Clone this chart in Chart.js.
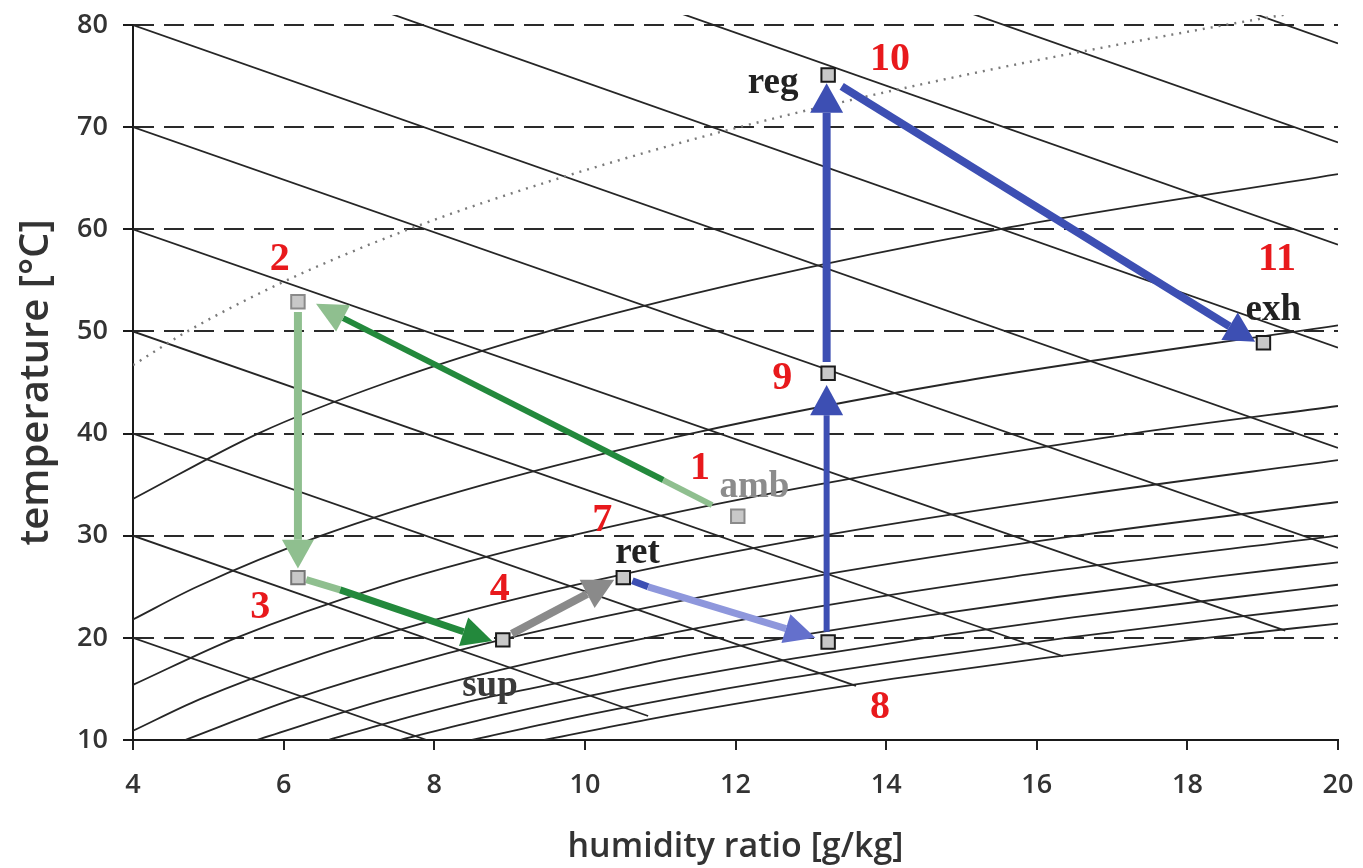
<!DOCTYPE html>
<html>
<head>
<meta charset="utf-8">
<script src="https://cdn.jsdelivr.net/npm/chart.js@4.4.1/dist/chart.umd.min.js"></script>
<style>
  html, body { margin: 0; padding: 0; background: #fff; }
  #wrap { width: 1363px; height: 868px; }
</style>
</head>
<body>
<div id="wrap"><canvas id="psy" width="1363" height="868"></canvas></div>
<script>
// axis ranges (humidity ratio g/kg, temperature degC)
var xTicks = [4, 6, 8, 10, 12, 14, 16, 18, 20];
var yTicks = [10, 20, 30, 40, 50, 60, 70, 80];

// relative humidity curves
var rhLevels = [5, 10, 20, 30, 40, 50, 60, 70, 80, 90, 100];
var rhX = [
    [4, 4.72, 6.04, 7.66, 9.66, 12.05, 14.98, 18.5, 20.1],
    [4, 5.66, 7.37, 9.51, 12.2, 15.5, 20],
    [4, 4.85, 6.5, 8.66, 11.41, 14.91, 20],
    [4, 5.37, 7.29, 9.82, 13.09, 17.27, 20],
    [4, 4.89, 6.33, 8.13, 10.37, 13.15, 16.6, 20],
    [4.69, 6.13, 7.93, 10.2, 13.03, 16.53, 20],
    [5.64, 7.37, 9.54, 12.27, 15.69, 20],
    [6.59, 7.54, 8.6, 9.92, 11.16, 12.67, 14.38, 16.27, 18.39, 20],
    [7.54, 8.63, 9.85, 11.22, 12.78, 14.53, 16.48, 18.66, 20],
    [8.5, 9.73, 11.11, 12.66, 14.43, 16.39, 18.6, 20],
    [9.46, 10.83, 12.37, 14.1, 16.06, 18.26, 20]
];
var rhY = [
    [46.7, 50, 55, 60, 65, 70, 75, 80, 82],
    [33.6, 40, 45, 50, 55, 60, 65.4],
    [21.8, 25, 30, 35, 40, 45, 50.6],
    [15.4, 20, 25, 30, 35, 40, 42.7],
    [10.9, 14, 18, 22, 26, 30, 34, 37.4],
    [10, 14, 18, 22, 26, 30, 33.3],
    [10, 14, 18, 22, 26, 30],
    [10, 12, 14, 16, 18, 20, 22, 24, 26, 27.4],
    [10, 12, 14, 16, 18, 20, 22, 24, 25.2],
    [10, 12, 14, 16, 18, 20, 22, 23.2],
    [10, 12, 14, 16, 18, 20, 21.4]
];

// enthalpy lines: start and end points
var enthX0 = [4, 4, 4, 4, 4, 4, 4, 4, 4, 4, 4];
var enthY0 = [20, 30, 40, 50, 60, 70, 80, 90, 100, 110, 120];
var enthX1 = [7.9, 10.84, 13.6, 16.35, 19.3, 20, 20, 20, 20, 20, 20];
var enthY1 = [10, 12.35, 15.3, 18.2, 20.7, 28.8, 38.6, 48.4, 58.5, 68.5, 78.2];

// process states (square markers)
var stateNames = ['amb', '2', '3', 'sup', 'ret', '8', '9', 'reg', 'exh'];
var stateX = [12.03, 6.19, 6.19, 8.91, 10.51, 13.23, 13.23, 13.23, 19.01];
var stateY = [31.9, 52.9, 25.9, 19.8, 25.9, 19.6, 45.9, 75.1, 48.9];

// process arrows: shaft points (last one = base of head) and head tip
var arrowPathX = [
    [11.69, 11.04, 6.79],
    [6.19, 6.19],
    [6.30, 6.75, 8.39],
    [9.03, 10.03],
    [10.63, 10.84, 12.67],
    [13.21, 13.21],
    [13.21, 13.21],
    [13.41, 18.56]
];
var arrowPathY = [
    [33.0, 35.45, 51.3],
    [51.9, 29.6],
    [25.7, 24.7, 20.6],
    [20.4, 24.3],
    [25.6, 25.0, 20.9],
    [20.6, 41.8],
    [47.0, 71.4],
    [74.0, 50.5]
];
var arrowTipX = [6.43, 6.19, 8.77, 10.39, 13.06, 13.21, 13.21, 18.90];
var arrowTipY = [52.7, 26.8, 19.7, 25.7, 20.0, 44.75, 74.3, 49.0];

// text labels
var labelText = ['1', 'amb', '2', '3', '4', 'sup', '7', 'ret', '8', '9', 'reg', '10', '11', 'exh'];
var labelX = [11.53, 12.25, 5.95, 5.69, 8.87, 8.74, 10.23, 10.7, 13.92, 12.62, 12.5, 14.05, 19.19, 19.14];
var labelY = [36.6, 34.7, 57.0, 23.0, 24.7, 15.2, 31.5, 28.3, 13.2, 45.4, 74.3, 76.6, 57.0, 52.1];

// ---- styles ----
var LINE = '#262626';
var DKGREEN = '#23893c';
var LTGREEN = '#8fbf8f';
var GREY = '#8a8a8a';
var BLUE = '#3d4fb3';
var LTBLUE = '#8e97dc';
var RED = '#e8191c';

var segColors = [[LTGREEN, DKGREEN], [LTGREEN], [LTGREEN, DKGREEN], [GREY], [BLUE, LTBLUE], [BLUE], [BLUE], [BLUE]];
var headColors = [LTGREEN, LTGREEN, DKGREEN, GREY, '#6470cc', BLUE, BLUE, BLUE];
var shaftWidths = [6, 8, 7, 8, 7, 6, 8, 8];
var headWidths = [30, 32, 30, 32, 30, 33, 33, 32];
var stateEdges = ['#8a8a8a', '#8a8a8a', '#777777', '#1a1a1a', '#1a1a1a', '#1a1a1a', '#1a1a1a', '#1a1a1a', '#1a1a1a'];

function toPoints(xs, ys) {
    return xs.map(function(x, i) { return {x: x, y: ys[i]}; });
}

var topClip = {left: 0, top: 10, right: 0, bottom: 0};
var datasets = [];

// state markers on top
datasets.push({
    label: 'states',
    data: toPoints(stateX, stateY),
    showLine: false,
    pointStyle: 'rect',
    pointRadius: 9.5,
    backgroundColor: '#c8c8c8',
    borderColor: stateEdges,
    borderWidth: 2,
    order: 0
});

// arrow shafts
arrowPathX.forEach(function(px, i) {
    var cols = segColors[i];
    datasets.push({
        label: 'arrow' + i,
        data: toPoints(px, arrowPathY[i]),
        showLine: true,
        pointRadius: 0,
        borderWidth: shaftWidths[i],
        borderCapStyle: 'butt',
        borderColor: cols[0],
        segment: {
            borderColor: function(ctx) { return cols[ctx.p0DataIndex] || cols[0]; }
        },
        order: 1
    });
});

// relative humidity curves
rhLevels.forEach(function(level, i) {
    var dotted = level === 5;
    datasets.push({
        label: 'RH ' + level + '%',
        data: toPoints(rhX[i], rhY[i]),
        showLine: true,
        pointRadius: 0,
        borderColor: dotted ? '#7a7a7a' : LINE,
        borderWidth: dotted ? 2.4 : 1.8,
        borderDash: dotted ? [2, 6] : [],
        cubicInterpolationMode: 'monotone',
        clip: topClip,
        order: 2
    });
});

// enthalpy lines
enthX0.forEach(function(x0, i) {
    datasets.push({
        label: 'h' + i,
        data: [{x: x0, y: enthY0[i]}, {x: enthX1[i], y: enthY1[i]}],
        showLine: true,
        pointRadius: 0,
        borderColor: LINE,
        borderWidth: 1.8,
        clip: topClip,
        order: 2
    });
});

var overlayPlugin = {
    id: 'overlay',
    afterDatasetsDraw: function(chart) {
        var ctx = chart.ctx;
        var xs = chart.scales.x, ys = chart.scales.y;

        // arrow heads
        arrowTipX.forEach(function(tx, i) {
            var pxs = arrowPathX[i], pys = arrowPathY[i];
            var bx = xs.getPixelForValue(pxs[pxs.length - 1]);
            var by = ys.getPixelForValue(pys[pys.length - 1]);
            var tipx = xs.getPixelForValue(tx);
            var tipy = ys.getPixelForValue(arrowTipY[i]);
            var ang = Math.atan2(tipy - by, tipx - bx);
            var hw = headWidths[i] / 2;
            ctx.save();
            ctx.fillStyle = headColors[i];
            ctx.beginPath();
            ctx.moveTo(tipx, tipy);
            ctx.lineTo(bx - Math.sin(ang) * hw, by + Math.cos(ang) * hw);
            ctx.lineTo(bx + Math.sin(ang) * hw, by - Math.cos(ang) * hw);
            ctx.closePath();
            ctx.fill();
            ctx.restore();
        });

        // labels
        labelText.forEach(function(t, i) {
            var isNum = /^[0-9]+$/.test(t);
            ctx.save();
            if (isNum) {
                ctx.font = 'bold 40px "Liberation Serif", serif';
                ctx.fillStyle = RED;
            } else if (t === 'amb') {
                ctx.font = 'bold 37px "Liberation Serif", serif';
                ctx.fillStyle = '#8c8c8c';
            } else if (t === 'sup') {
                ctx.font = 'bold 37px "Liberation Serif", serif';
                ctx.fillStyle = '#3a3a3a';
            } else {
                ctx.font = 'bold 37px "Liberation Serif", serif';
                ctx.fillStyle = '#222222';
            }
            ctx.textAlign = 'center';
            ctx.textBaseline = 'middle';
            ctx.fillText(t, xs.getPixelForValue(labelX[i]), ys.getPixelForValue(labelY[i]));
            ctx.restore();
        });
    }
};

var tickFont = {family: '"Open Sans", sans-serif', size: 27, weight: '600'};
var xTitleFont = {family: '"Open Sans", sans-serif', size: 34, weight: '600', lineHeight: 1.2};
var yTitleFont = {family: '"Open Sans", sans-serif', size: 40, weight: '600', lineHeight: 1.2};

new Chart(document.getElementById('psy').getContext('2d'), {
    type: 'scatter',
    data: {datasets: datasets},
    options: {
        responsive: false,
        animation: false,
        devicePixelRatio: 1,
        layout: {padding: {top: 25, right: 25, left: 0, bottom: 0}},
        plugins: {legend: {display: false}, tooltip: {enabled: false}},
        scales: {
            x: {
                type: 'linear',
                min: 4,
                max: 20,
                afterFit: function(s) {
                    s.height = 128;
                    s.paddingLeft = 0;
                    s.paddingRight = 0;
                },
                afterBuildTicks: function(s) { s.ticks = xTicks.map(function(v) { return {value: v}; }); },
                ticks: {color: '#333', font: tickFont, padding: 19, maxRotation: 0},
                grid: {drawOnChartArea: false, drawTicks: true, tickLength: 10, color: '#222', lineWidth: 2},
                border: {display: true, color: '#1a1a1a', width: 2},
                title: {display: true, text: 'humidity ratio [g/kg]', color: '#333', font: xTitleFont, padding: {top: 0, bottom: 0}}
            },
            y: {
                type: 'linear',
                min: 10,
                max: 80,
                afterFit: function(s) {
                    s.width = 133;
                    s.paddingTop = 0;
                    s.paddingBottom = 0;
                },
                afterBuildTicks: function(s) { s.ticks = yTicks.map(function(v) { return {value: v}; }); },
                ticks: {color: '#333', font: tickFont, padding: 15},
                grid: {
                    color: function(c) { return c.tick && c.tick.value === 10 ? 'rgba(0,0,0,0)' : '#2a2a2a'; },
                    tickColor: '#1a1a1a',
                    lineWidth: 2,
                    tickLength: 10,
                    tickBorderDash: []
                },
                border: {display: true, color: '#1a1a1a', width: 2, dash: [20, 10]},
                title: {display: true, text: 'temperature [°C]', color: '#333', font: yTitleFont, padding: {top: 13, bottom: 0}}
            }
        }
    },
    plugins: [overlayPlugin]
});
</script>
</body>
</html>
